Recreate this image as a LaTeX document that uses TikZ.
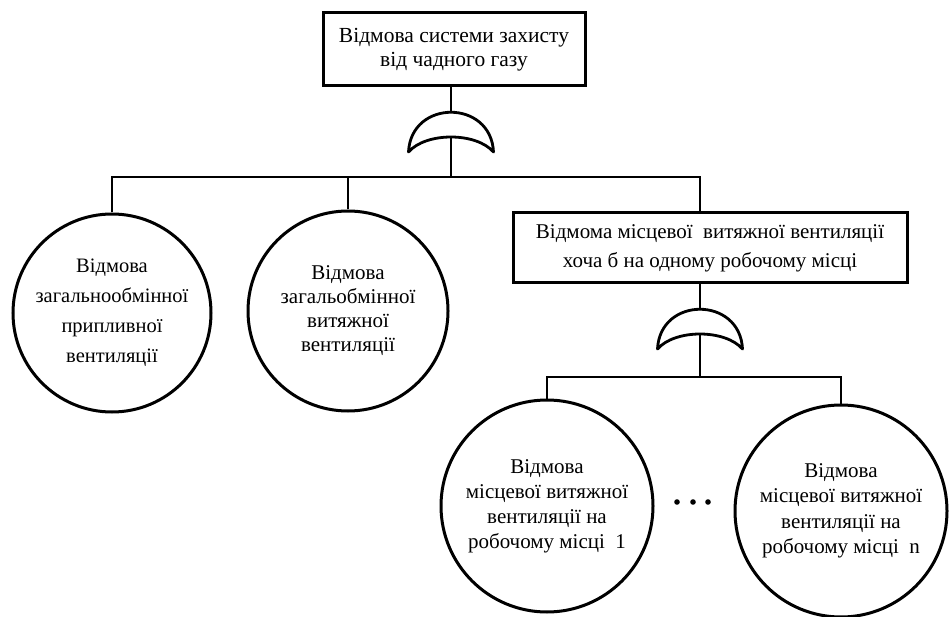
\documentclass[tikz,border=0pt]{standalone}
\usepackage{fontspec}
\setmainfont{Liberation Serif}
\begin{document}
\begin{tikzpicture}[x=1pt,y=-1pt,
  boxnode/.style={draw,line width=3pt,rectangle,inner sep=0pt,align=center},
  evcircle/.style={draw,line width=3pt,circle,inner sep=0pt,align=center},
  conn/.style={line width=1.9pt},
  gateline/.style={line width=2.8pt,line join=round},
  orgate/.pic={\draw[gateline] (-42.5,40) .. controls (-40,-13) and (40,-13) .. (42.5,40)
      .. controls (25,20) and (-25,20) .. cycle;}]
\useasboundingbox (0,0) rectangle (952,617);

% top event
\node[boxnode,minimum width=262pt,minimum height=73pt,
  font=\fontsize{21.5}{24}\selectfont] (top) at (454,49.5)
  {Відмова системи захисту\\від чадного газу};

% gate 1
\pic at (451,112) {orgate};
\coordinate (g1top) at (451,112);
\coordinate (g1in) at (451,137);
\coordinate (bus1) at (451,177);

% intermediate event
\node[boxnode,minimum width=394pt,minimum height=70pt,
  font=\fontsize{21}{29}\selectfont] (box2) at (710,248)
  {Відмома місцевої \ витяжної вентиляції\\хоча б на одному робочому місці};

% basic events level 1
\node[evcircle,minimum size=198pt,font=\fontsize{20.5}{30}\selectfont] (c1) at (112,313)
  {Відмова\\загальнообмінної\\припливної\\вентиляції};
\node[evcircle,minimum size=200pt,font=\fontsize{21}{24}\selectfont] (c2) at (348,311)
  {Відмова\\загальобмінної\\витяжної\\вентиляції};

% gate 2
\pic at (700,309) {orgate};
\coordinate (g2top) at (700,309);
\coordinate (g2in) at (700,334);
\coordinate (bus2) at (700,377);

% basic events level 2
\node[evcircle,minimum size=212pt,font=\fontsize{21}{25}\selectfont] (c3) at (547,506)
  {Відмова\\місцевої витяжної\\вентиляції на\\робочому місці \ 1};
\node[evcircle,minimum size=212pt,font=\fontsize{21}{25.5}\selectfont] (c4) at (841,511)
  {Відмова\\місцевої витяжної\\вентиляції на\\робочому місці \ n};

% dots
\fill (677,502) circle (2.8pt);
\fill (693,502) circle (2.8pt);
\fill (708,502) circle (2.8pt);

% connectors
\draw[conn] (top.south -| g1top) -- (g1top);
\draw[conn] (g1in) -- (bus1);
\draw[conn] (c1.north) |- (bus1);
\draw[conn] (c2.north) |- (bus1);
\draw[conn] (bus1) -| (box2.north -| g2top);
\draw[conn] (box2.south -| g2top) -- (g2top);
\draw[conn] (g2in) -- (bus2);
\draw[conn] (c3.north) |- (bus2);
\draw[conn] (c4.north) |- (bus2);
\end{tikzpicture}
\end{document}
